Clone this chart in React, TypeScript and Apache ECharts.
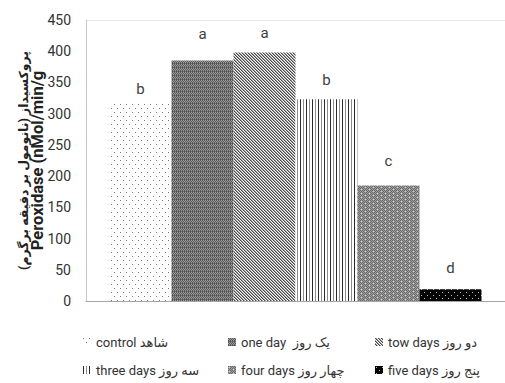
import React, { useEffect, useRef } from "react";
import * as echarts from "echarts";

const categories = [
  "control شاهد",
  "one day  یک روز",
  "tow days دو روز",
  "three days سه روز",
  "four days چهار روز",
  "five days پنج روز",
];
const values = [320, 385, 398, 323, 185, 19];
const letters = ["b", "a", "a", "b", "c", "d"];
const yMin = 0;
const yMax = 450;
const yStep = 50;
const yTitleFa = "پروکسیداز (نانومول بر دقیقه برگرم)";
const yTitleEn = "Peroxidase (nMol/min/g";

const labelGaps = [5, 19, 12, 12, 17, 14];
const legendLeft = [83, 228, 375, 83, 228, 375];
const legendTop = [334, 334, 334, 362, 362, 362];

function tile(w: number, h: number, fn: (x: number, y: number) => string) {
  const c = document.createElement("canvas");
  c.width = w;
  c.height = h;
  const ctx = c.getContext("2d")!;
  for (let y = 0; y < h; y++) {
    for (let x = 0; x < w; x++) {
      ctx.fillStyle = fn(x, y);
      ctx.fillRect(x, y, 1, 1);
    }
  }
  return { image: c, repeat: "repeat", imageWidth: w, imageHeight: h } as any;
}

function makePatterns() {
  const dots = tile(6, 8, (x, y) =>
    (x === 0 && y === 0) || (x === 3 && y === 4) ? "#7a7a7a" : "#ffffff"
  );
  const oneDay = tile(4, 4, (x, y) => {
    if (y === 3) return x % 2 === 0 ? "#505050" : "#707070";
    return (x + y) % 2 === 0 ? "#5a5a5a" : "#9a9a9a";
  });
  const diag = tile(3, 3, (x, y) => {
    const d = (((x - y) % 3) + 3) % 3;
    return d === 0 ? "#4a4a4a" : d === 1 ? "#a0a0a0" : "#f4f4f4";
  });
  const vert = tile(6, 2, (x) =>
    x === 0 ? "#2a2a2a" : x === 3 ? "#8c8c8c" : "#ffffff"
  );
  const four = tile(8, 4, (x, y) => {
    if ((x === 1 && y === 1) || (x === 5 && y === 3)) return "#d0d0d0";
    return (x + y) % 2 === 0 ? "#686868" : "#a0a0a0";
  });
  const five = tile(6, 6, (x, y) =>
    (x === 1 && y === 1) || (x === 4 && y === 4) ? "#bdbdbd" : "#050505"
  );
  return [dots, oneDay, diag, vert, four, five];
}

export default function App() {
  const ref = useRef<HTMLDivElement>(null);
  useEffect(() => {
    document.body.style.margin = "0";
    document.body.style.overflow = "hidden";
    if (!ref.current) return;
    const chart = echarts.init(ref.current, undefined, { renderer: "svg" });
    const patterns = makePatterns();
    const font = "Roboto, 'Noto Sans', 'DejaVu Sans', sans-serif";
    const splitColors: string[] = [];
    for (let v = yMin; v <= yMax; v += yStep) {
      splitColors.push(v === yMax ? "#e8e8e8" : "rgba(0,0,0,0)");
    }
    const series = categories.map((name, i) => ({
      type: "bar",
      name,
      data: [values[i]],
      barWidth: 62,
      barGap: "0%",
      itemStyle: { color: patterns[i] },
      emphasis: { disabled: true },
      label: {
        show: true,
        position: "top",
        distance: labelGaps[i],
        formatter: letters[i],
        color: "#404040",
        fontSize: 15,
        fontFamily: font,
      },
    }));
    const legends = categories.map((name, i) => ({
      orient: "horizontal",
      left: legendLeft[i],
      top: legendTop[i],
      padding: 0,
      itemWidth: 8,
      itemHeight: 8,
      icon: "rect",
      selectedMode: false,
      data: [name],
      textStyle: {
        fontSize: 13,
        lineHeight: 16,
        color: "#333",
        fontFamily: font,
      },
    }));
    chart.setOption({
      animation: false,
      textStyle: { fontFamily: font },
      grid: { left: 86, right: 0, top: 20, bottom: 82 },
      legend: legends,
      xAxis: {
        type: "category",
        data: [""],
        axisTick: { show: false },
        axisLabel: { show: false },
        axisLine: { lineStyle: { color: "#a6a6a6", width: 1 } },
      },
      yAxis: {
        type: "value",
        min: yMin,
        max: yMax,
        interval: yStep,
        name: "{fa|" + yTitleFa + "}\n{en|" + yTitleEn + "}",
        nameLocation: "middle",
        nameRotate: 90,
        nameGap: 42,
        nameMoveOverlap: false,
        nameTextStyle: {
          fontWeight: "bold",
          color: "#222",
          fontFamily: font,
          rich: {
            fa: { fontSize: 12.5, lineHeight: 13, fontWeight: "bold", color: "#222", fontFamily: font },
            en: { fontSize: 16.5, lineHeight: 14, fontWeight: "bold", color: "#222", fontFamily: font },
          },
        },
        axisLine: { show: true, lineStyle: { color: "#c8c8c8", width: 1 } },
        axisTick: { show: false },
        axisLabel: { fontSize: 14, color: "#333", margin: 15, fontFamily: font },
        splitLine: { show: true, lineStyle: { color: splitColors, width: 1 } },
      },
      series,
    } as any);
    return () => chart.dispose();
  }, []);
  return <div ref={ref} style={{ width: 505, height: 383 }} />;
}
